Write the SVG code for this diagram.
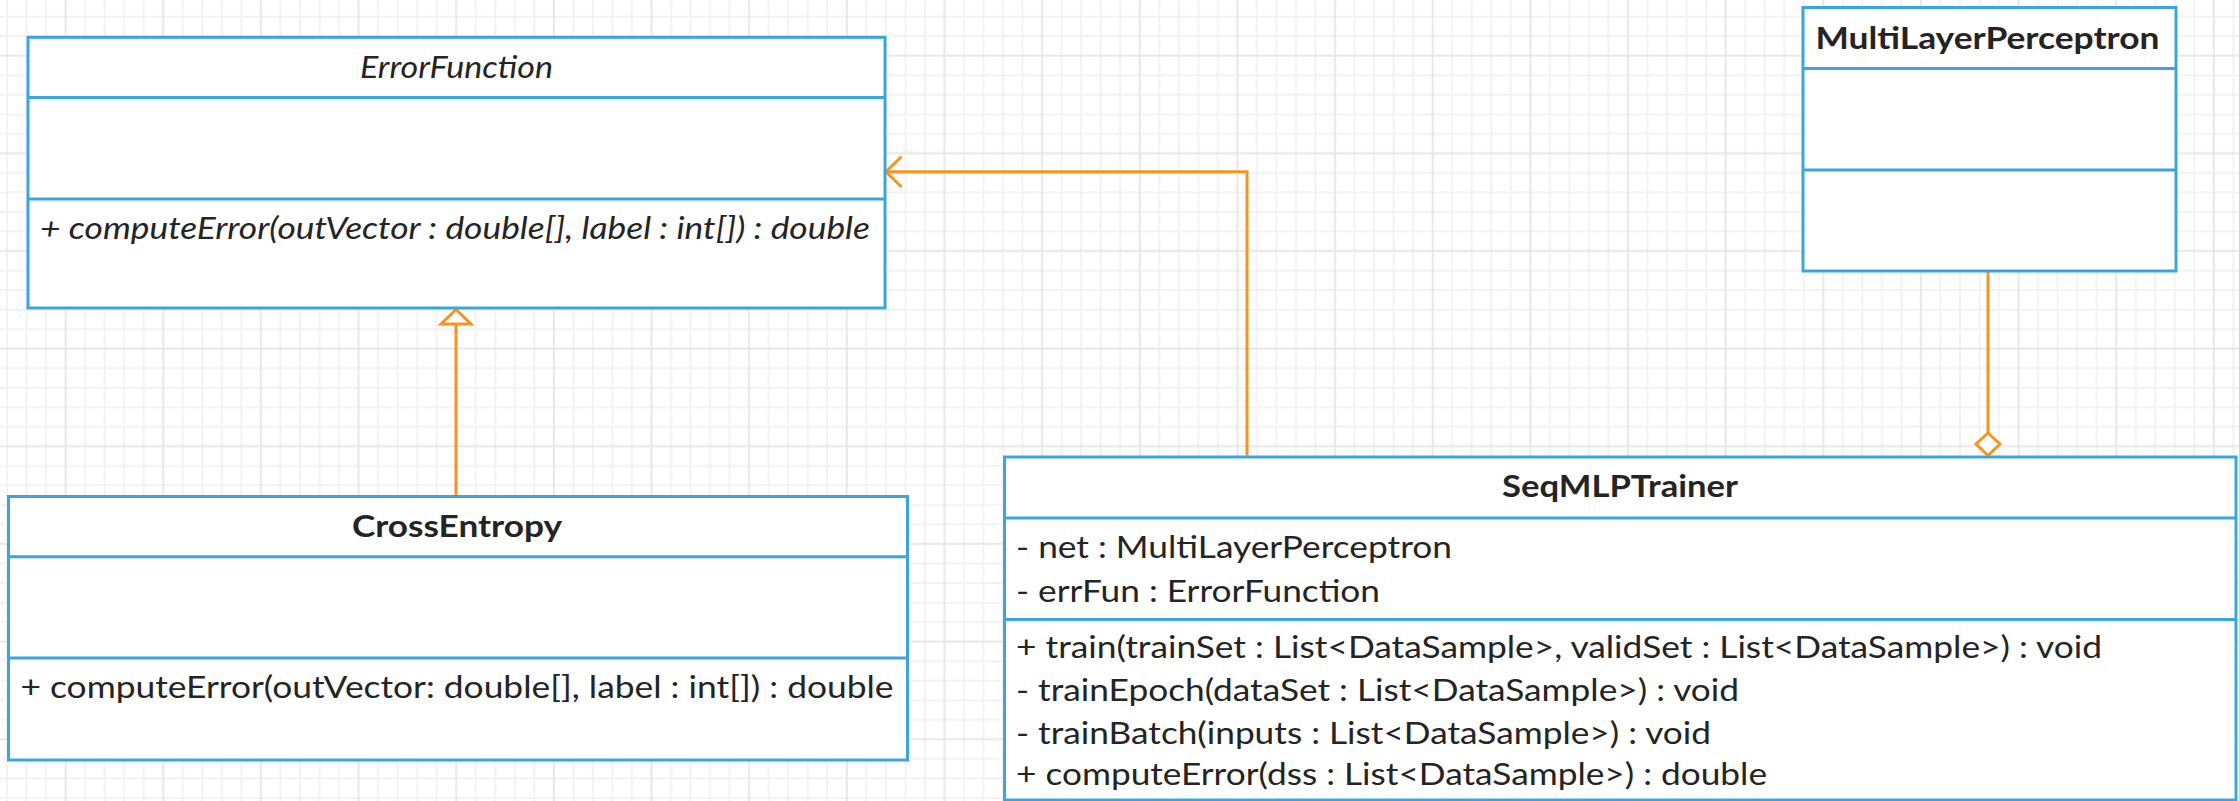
<svg xmlns="http://www.w3.org/2000/svg" width="2239" height="801" viewBox="0 0 2239 801">
  <style>
    .box { fill: #ffffff; stroke: #3aa6dd; stroke-width: 3; }
    .sep { stroke: #3aa6dd; stroke-width: 3; fill: none; }
    .t { font-family: Lato, "Liberation Sans", sans-serif; font-size: 30px; fill: #242424; }
    .title { font-weight: bold; text-anchor: middle; }
    .it { font-style: italic; }
    .edge { stroke: #f7941d; stroke-width: 3; fill: none; stroke-linejoin: miter; }
    .head { stroke: #f7941d; stroke-width: 3; fill: #ffffff; }
  </style>
  <defs>
    <!-- drawing-board grid: minor lines every 19.53px, a stronger line every fifth -->
    <pattern id="grid" patternUnits="userSpaceOnUse" x="55.8" y="45.9" width="97.65" height="97.65">
      <g stroke="#f2f2f2" stroke-width="2">
        <path d="M29.3,0V97.65M48.8,0V97.65M68.4,0V97.65M87.9,0V97.65"/>
        <path d="M0,29.3H97.65M0,48.8H97.65M0,68.4H97.65M0,87.9H97.65"/>
      </g>
      <g stroke="#e7e7e7" stroke-width="2">
        <path d="M9.77,0V97.65"/>
        <path d="M0,9.77H97.65"/>
      </g>
    </pattern>
  </defs>

  <rect width="2239" height="801" fill="#ffffff"/>
  <rect width="2239" height="801" fill="url(#grid)"/>

  <!-- connectors -->
  <g id="connectors">
    <!-- CrossEntropy realizes ErrorFunction -->
    <path class="edge" d="M456,495 V324"/>
    <path class="head" d="M456,309.5 L441,324 L471,324 Z"/>
    <!-- SeqMLPTrainer uses ErrorFunction -->
    <path class="edge" d="M1247,455.5 V171.7 H886"/>
    <path class="edge" d="M901.5,156.5 L886,171.7 L901.5,187"/>
    <!-- SeqMLPTrainer aggregates MultiLayerPerceptron -->
    <path class="edge" d="M1988,271 V433"/>
    <path class="head" d="M1988,433 L2000,444 L1988,455.5 L1976,444 Z"/>
  </g>

  <g id="ErrorFunction">
    <rect class="box" x="28" y="37.3" width="857" height="270.7"/>
    <path class="sep" d="M28,97.6 H885 M28,199 H885"/>
    <text class="t it" x="456.5" y="78" text-anchor="middle" font-size="34" textLength="193" lengthAdjust="spacingAndGlyphs">ErrorFunction</text>
    <text class="t it" x="40" y="239" font-size="31" textLength="830" lengthAdjust="spacingAndGlyphs">+ computeError(outVector : double[], label : int[]) : double</text>
  </g>

  <g id="CrossEntropy">
    <rect class="box" x="8.5" y="496.5" width="899" height="263.5"/>
    <path class="sep" d="M8.5,556.8 H907.5 M8.5,658 H907.5"/>
    <text class="t title" x="457" y="537" textLength="210" lengthAdjust="spacingAndGlyphs">CrossEntropy</text>
    <text class="t" x="20.5" y="698" textLength="873" lengthAdjust="spacingAndGlyphs">+ computeError(outVector: double[], label : int[]) : double</text>
  </g>

  <g id="MultiLayerPerceptron">
    <rect class="box" x="1803" y="7.5" width="373" height="263.5"/>
    <path class="sep" d="M1803,68.5 H2176 M1803,170 H2176"/>
    <text class="t title" x="1987.5" y="49" font-size="33" textLength="344" lengthAdjust="spacingAndGlyphs">MultiLayerPerceptron</text>
  </g>

  <g id="SeqMLPTrainer">
    <rect class="box" x="1004.5" y="457" width="1231.5" height="343"/>
    <path class="sep" d="M1004.5,518 H2236 M1004.5,619.5 H2236"/>
    <text class="t title" x="1620" y="497" textLength="236" lengthAdjust="spacingAndGlyphs">SeqMLPTrainer</text>
    <g font-size="29">
      <text class="t" x="1016" y="558" font-size="29" textLength="436" lengthAdjust="spacingAndGlyphs">- net : MultiLayerPerceptron</text>
      <text class="t" x="1016" y="601.5" font-size="29" textLength="364" lengthAdjust="spacingAndGlyphs">- errFun : ErrorFunction</text>
      <text class="t" x="1016" y="658" font-size="29" textLength="1086" lengthAdjust="spacingAndGlyphs">+ train(trainSet : List&lt;DataSample&gt;, validSet : List&lt;DataSample&gt;) : void</text>
      <text class="t" x="1016" y="701" font-size="29" textLength="723" lengthAdjust="spacingAndGlyphs">- trainEpoch(dataSet : List&lt;DataSample&gt;) : void</text>
      <text class="t" x="1016" y="743.5" font-size="29" textLength="695" lengthAdjust="spacingAndGlyphs">- trainBatch(inputs : List&lt;DataSample&gt;) : void</text>
      <text class="t" x="1016" y="785" font-size="29" textLength="751" lengthAdjust="spacingAndGlyphs">+ computeError(dss : List&lt;DataSample&gt;) : double</text>
    </g>
  </g>
</svg>
